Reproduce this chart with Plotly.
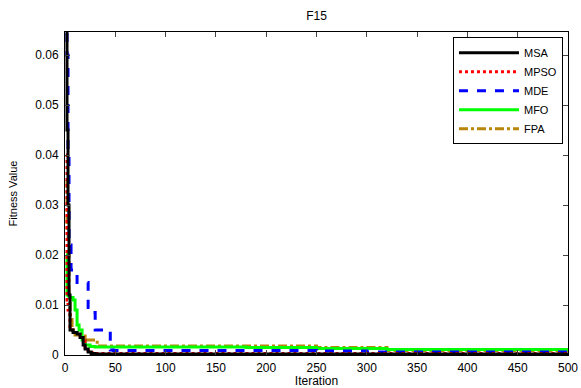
import plotly.graph_objects as go

# Iteration points and fitness values per algorithm (step curves)
msa_x = [1, 2, 3, 4, 5, 8, 12, 15, 18, 20, 23, 26, 30, 500]
msa_y = [0.075, 0.045, 0.03, 0.012, 0.005, 0.0045, 0.0042, 0.0035, 0.002, 0.0012, 0.0006, 0.0003, 0.0002, 0.0002]

mpso_x = [1, 2, 3, 5, 10, 15, 18, 20, 23, 26, 30, 500]
mpso_y = [0.04, 0.011, 0.009, 0.005, 0.0045, 0.004, 0.003, 0.0015, 0.0008, 0.0005, 0.0003, 0.0003]

mde_x = [1, 2, 3, 4, 6, 12, 23, 27, 30, 45, 48, 250, 300, 500]
mde_y = [0.075, 0.06, 0.04, 0.022, 0.017, 0.0145, 0.0095, 0.0085, 0.005, 0.001, 0.0009, 0.0008, 0.0006, 0.0006]

mfo_x = [1, 2, 4, 8, 10, 12, 14, 17, 20, 25, 30, 180, 250, 320, 500]
mfo_y = [0.02, 0.012, 0.0115, 0.011, 0.009, 0.006, 0.005, 0.003, 0.002, 0.0017, 0.0016, 0.0015, 0.0013, 0.0011, 0.0009]

fpa_x = [1, 2, 3, 4, 5, 7, 10, 15, 20, 28, 32, 250, 320, 500]
fpa_y = [0.035, 0.025, 0.02, 0.012, 0.008, 0.005, 0.004, 0.0038, 0.003, 0.003, 0.0018, 0.0015, 0.0009, 0.0009]

names = ["MSA", "MPSO", "MDE", "MFO", "FPA"]
colors = ["#000000", "#FF0000", "#0000FF", "#00FF00", "#B8860B"]
dashes = ["solid", "dot", "dash", "solid", "dashdot"]
xs = [msa_x, mpso_x, mde_x, mfo_x, fpa_x]
ys = [msa_y, mpso_y, mde_y, mfo_y, fpa_y]

x_ticks = list(range(0, 501, 50))
y_ticks = [0, 0.01, 0.02, 0.03, 0.04, 0.05, 0.06]
y_tick_text = ["0", "0.01", "0.02", "0.03", "0.04", "0.05", "0.06"]

fig = go.Figure()
order = [4, 3, 2, 1, 0]
for i in order:
    fig.add_trace(go.Scatter(
        x=xs[i], y=ys[i], name=names[i], mode="lines",
        line=dict(color=colors[i], width=3, dash=dashes[i], shape="hv"),
    ))

fig.update_layout(
    width=581, height=388,
    margin=dict(l=65, r=13, t=32, b=33),
    paper_bgcolor="white", plot_bgcolor="white",
    font=dict(family="Arial, Liberation Sans, sans-serif", size=12, color="#000000"),
    title=dict(text="F15", x=(65 + 503 / 2) / 581, xanchor="center", y=1 - 16 / 388, yanchor="middle",
               font=dict(size=12)),
    showlegend=True,
    legend=dict(x=0.99, xanchor="right", y=0.984, yanchor="top",
                bordercolor="#000000", borderwidth=1, bgcolor="white",
                font=dict(size=11), traceorder="reversed",
                itemwidth=60, tracegroupgap=0),
    xaxis=dict(range=[0, 500], tickvals=x_ticks, ticks="inside", ticklen=5,
               showline=True, linecolor="#000000", linewidth=1, mirror="ticks",
               showgrid=False, zeroline=False, automargin=False,
               tickfont=dict(size=12), ticklabelstandoff=2,
               title=dict(text="Iteration", font=dict(size=12), standoff=3)),
    yaxis=dict(range=[0, 0.0646], tickvals=y_ticks, ticktext=y_tick_text, ticks="inside", ticklen=5,
               showline=True, linecolor="#000000", linewidth=1, mirror="ticks",
               showgrid=False, zeroline=False, automargin=False,
               tickfont=dict(size=12), ticklabelstandoff=3,
               title=dict(text="Fitness Value", font=dict(size=11), standoff=15)),
)

fig.write_html("out.html")
